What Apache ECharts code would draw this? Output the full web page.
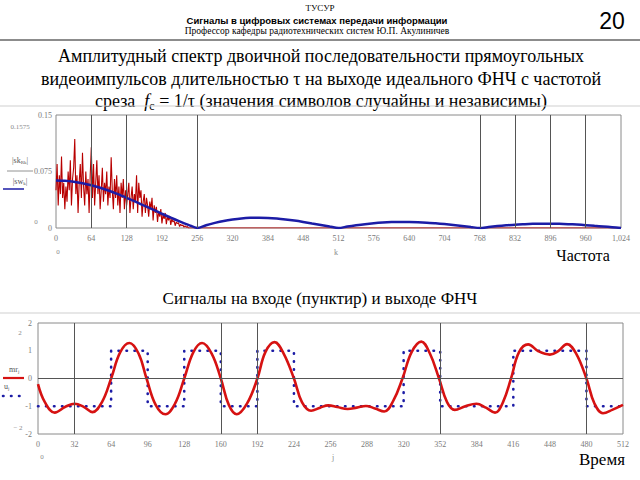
<!DOCTYPE html>
<html>
<head>
<meta charset="utf-8">
<script src="https://cdn.jsdelivr.net/npm/echarts@6/dist/echarts.min.js"></script>
<style>
  html, body { margin: 0; padding: 0; background: #fff; }
  #chart { width: 640px; height: 480px; }
</style>
</head>
<body>
<div id="chart"></div>
<script>
// спектр: шумовой (красный) - [k, |S|]
var spectrumK = [0,2,4,6,8,10,12,14,16,18,20,22,24,26,28,30,32,34,36,38,40,42,44,46,48,50,52,54,56,58,60,62,64,66,68,70,72,74,76,78,80,82,84,86,88,90,92,94,96,98,100,102,104,106,108,110,112,114,116,118,120,122,124,126,128,130,132,134,136,138,140,142,144,146,148,150,152,154,156,158,160,162,164,166,168,170,172,174,176,178,180,182,184,186,188,190,192,194,196,198,200,202,204,206,208,210,212,214,216,218,220,222,224,226,228,230,232,234,236,238,240,256,1024]
var spectrumVal = [0.05,0.085,0.03,0.07,0.045,0.095,0.04,0.06,0.025,0.055,0.035,0.075,0.05,0.09,0.03,0.065,0.08,0.118,0.045,0.07,0.02,0.06,0.085,0.04,0.1,0.055,0.03,0.075,0.045,0.065,0.02,0.07,0.107,0.04,0.085,0.03,0.06,0.09,0.045,0.07,0.025,0.05,0.08,0.035,0.06,0.045,0.075,0.03,0.055,0.04,0.094,0.05,0.025,0.065,0.04,0.07,0.03,0.055,0.02,0.06,0.04,0.065,0.025,0.05,0.03,0.045,0.06,0.02,0.04,0.055,0.025,0.045,0.035,0.07,0.02,0.06,0.04,0.05,0.015,0.035,0.045,0.02,0.04,0.03,0.015,0.035,0.025,0.04,0.01,0.03,0.02,0.028,0.008,0.022,0.015,0.025,0.006,0.018,0.012,0.02,0.005,0.015,0.01,0.016,0.004,0.012,0.008,0.01,0.003,0.008,0.006,0.007,0.002,0.005,0.003,0.004,0.001,0.003,0.001,0.002,0,0,0]
// огибающая (синяя), шаг 16
var envelopeK = [0,16,32,48,64,80,96,112,128,144,160,176,192,208,224,240,256,272,288,304,320,336,352,368,384,400,416,432,448,464,480,496,512,528,544,560,576,592,608,624,640,656,672,688,704,720,736,752,768,784,800,816,832,848,864,880,896,912,928,944,960,976,992,1008,1024]
var envelopeVal = [0.063,0.0626,0.0614,0.0594,0.0567,0.0534,0.0494,0.045,0.0401,0.035,0.0296,0.0243,0.0189,0.0137,0.0088,0.0042,0,0.0037,0.0068,0.0094,0.0113,0.0127,0.0135,0.0137,0.0134,0.0126,0.0114,0.0099,0.0081,0.0061,0.0041,0.002,0,0.0019,0.0036,0.0051,0.0063,0.0072,0.0078,0.0081,0.008,0.0077,0.0071,0.0062,0.0052,0.004,0.0027,0.0013,0,0.0013,0.0025,0.0035,0.0044,0.005,0.0055,0.0057,0.0057,0.0055,0.0051,0.0045,0.0038,0.0029,0.002,0.001,0]
var topGridLines = [64, 128, 256, 768, 832, 896, 960]

// входные символы (по 32 отсчёта)
var symbols = [-1,-1,1,-1,1,-1,1,-1,-1,-1,1,-1,-1,1,1,-1]
var symbolLen = 32
// выход ФНЧ (красный)
var outJ = [0,6,14.6,24,32,40,47.6,56,64,72,80,88,95,103,111.5,120,128,136,143.6,152,160,167,174,183,192,199,207,215,224,231,239,247,254,262,271,279,287,295,303,311,319,327,335.5,343,351,358,364.7,374,383.7,392,400,407,414,421,429,438,448,455,463,471,480,487,494.5,503,512]
var outVal = [-0.2,-0.85,-1.23,-1.02,-0.91,-1.02,-1.21,-0.85,0,0.95,1.28,0.9,0,-0.95,-1.29,-0.9,0,0.95,1.28,0.9,0,-0.95,-1.29,-0.9,0,0.95,1.31,0.9,0,-0.85,-1.16,-1.05,-0.97,-1.03,-1.1,-1.05,-0.99,-1.08,-1.19,-0.8,0,0.95,1.33,0.9,0,-0.85,-1.13,-1.0,-0.91,-1.05,-1.23,-0.85,0,0.95,1.23,0.98,0.86,0.98,1.24,0.9,0,-0.9,-1.25,-1.12,-0.95]
var bottomGridX = [32, 160, 192, 352, 480]

var serif = '"Liberation Serif", "DejaVu Serif", serif'
var sans = '"Liberation Sans", Arial, sans-serif'

function pairs(xs, ys) {
    return xs.map(function(x, i) { return [x, ys[i]] })
}
var squareData = symbols.map(function(v, i) { return [i * symbolLen, v] })
squareData.push([symbols.length * symbolLen, symbols[symbols.length - 1]])

function vLines(xs) {
    return xs.map(function(x) { return { xAxis: x } })
}

var tickLabel = { color: '#7a7a7a', fontSize: 8, fontFamily: serif, margin: 6 }

function txt(x, y, text, font, extra) {
    var st = Object.assign({ x: x, y: y, text: text, font: font, fill: '#000', textAlign: 'center', textVerticalAlign: 'middle' }, extra || {})
    return { type: 'text', style: st, silent: true }
}
// маленькая подпись с индексом (Mathcad-стиль)
function subTxt(x, y, main, sub, tail, align) {
    return {
        type: 'text', silent: true,
        style: {
            x: x, y: y, textAlign: align || 'center', textVerticalAlign: 'middle',
            rich: {
                m: { fontSize: 8, fontFamily: serif, fill: '#555' },
                s: { fontSize: 5, fontFamily: serif, fill: '#555', padding: [5, 0, 0, 0] }
            },
            text: '{m|' + main + '}{s|' + sub + '}' + (tail ? '{m|' + tail + '}' : '')
        }
    }
}

var option = {
    animation: false,
    backgroundColor: '#fff',
    grid: [
        { left: 56, top: 115, width: 565, height: 113, show: true, borderColor: '#8a8a8a', borderWidth: 1 },
        { left: 38, top: 323, width: 585, height: 111, show: true, borderColor: '#8a8a8a', borderWidth: 1 }
    ],
    xAxis: [
        { gridIndex: 0, type: 'value', min: 0, max: 1024, interval: 64,
          axisLine: { show: false }, axisTick: { show: false }, splitLine: { show: false },
          axisLabel: tickLabel },
        { gridIndex: 1, type: 'value', min: 0, max: 512, interval: 32,
          axisLine: { show: false }, axisTick: { show: false }, splitLine: { show: false },
          axisLabel: tickLabel }
    ],
    yAxis: [
        { gridIndex: 0, type: 'value', min: 0, max: 0.15, interval: 0.075,
          axisLine: { show: false }, axisTick: { show: false }, splitLine: { show: false },
          axisLabel: Object.assign({}, tickLabel, { margin: 4 }) },
        { gridIndex: 1, type: 'value', min: -2, max: 2, interval: 1,
          axisLine: { show: false }, axisTick: { show: false },
          splitLine: { show: false },
          axisLabel: Object.assign({}, tickLabel, { margin: 6 }) }
    ],
    series: [
        {
            type: 'line', xAxisIndex: 0, yAxisIndex: 0, data: pairs(spectrumK, spectrumVal),
            showSymbol: false, lineStyle: { color: '#b80000', width: 1.1 }, z: 3,
            markLine: { silent: true, symbol: 'none', label: { show: false },
                lineStyle: { color: '#555', width: 1, type: 'solid' }, data: vLines(topGridLines) }
        },
        {
            type: 'line', xAxisIndex: 0, yAxisIndex: 0, data: pairs(envelopeK, envelopeVal),
            showSymbol: false, smooth: 0.3, lineStyle: { color: '#1c1ca6', width: 2.5 }, z: 4
        },
        {
            type: 'line', xAxisIndex: 1, yAxisIndex: 1, data: squareData, step: 'end',
            showSymbol: false, lineStyle: { color: '#1c1ca6', width: 2.6, type: [0.5, 7.5], cap: 'round' }, z: 3,
            markLine: { silent: true, symbol: 'none', label: { show: false },
                lineStyle: { color: '#555', width: 1, type: 'solid' },
                data: vLines(bottomGridX).concat([{ yAxis: 0 }]) }
        },
        {
            type: 'line', xAxisIndex: 1, yAxisIndex: 1, data: pairs(outJ, outVal),
            showSymbol: false, smooth: 0.4, lineStyle: { color: '#d61212', width: 2.6 }, z: 4
        }
    ],
    graphic: [
        txt(320, 8, 'ТУСУР', '9px ' + serif),
        txt(317, 20, 'Сигналы в цифровых системах передачи информации', 'bold 9.5px ' + sans),
        txt(317, 31, 'Профессор кафедры радиотехнических систем Ю.П. Акулиничев', '9.5px ' + serif),
        txt(612, 21, '20', '23px ' + sans),
        { type: 'line', shape: { x1: 0, y1: 40, x2: 640, y2: 40 }, style: { stroke: '#8c8c8c', lineWidth: 2 }, silent: true },
        txt(321, 56, 'Амплитудный спектр двоичной последовательности прямоугольных', '18px ' + serif),
        txt(321, 79, 'видеоимпульсов длительностью τ на выходе идеального ФНЧ с частотой', '18px ' + serif),
        {
            type: 'text', silent: true,
            style: {
                x: 321, y: 101, textAlign: 'center', textVerticalAlign: 'middle',
                rich: {
                    t: { fontSize: 18, fontFamily: serif, fill: '#000' },
                    i: { fontSize: 18, fontFamily: serif, fontStyle: 'italic', fill: '#000' },
                    s: { fontSize: 12, fontFamily: serif, fill: '#000', padding: [10, 0, 0, 0] }
                },
                text: '{t|среза  }{i|f}{s|c}{t| = 1/τ (значения символов случайны и независимы)}'
            }
        },
        { type: 'line', shape: { x1: 0, y1: 106, x2: 640, y2: 106 }, style: { stroke: '#cfcfcf', lineWidth: 1 }, silent: true },
        // подписи у верхнего графика
        txt(20, 127, '0.1575', '7px ' + serif, { fill: '#8a8a8a' }),
        txt(36, 222, '0', '7px ' + serif, { fill: '#8a8a8a' }),
        subTxt(20, 160, '|sk', 'Rk', '|'),
        { type: 'line', shape: { x1: 7, y1: 171, x2: 33, y2: 171 }, style: { stroke: '#777', lineWidth: 0.8 }, silent: true },
        subTxt(20, 181, '|sw', 'k', '|'),
        { type: 'line', shape: { x1: 3, y1: 189, x2: 24, y2: 189 }, style: { stroke: '#1c1ca6', lineWidth: 1.5 }, silent: true },
        txt(58, 252, '0', '7px ' + serif, { fill: '#8a8a8a' }),
        txt(336, 252, 'k', '8px ' + serif, { fill: '#8a8a8a' }),
        txt(583, 255, 'Частота', '16px ' + serif),
        // раздел сигналов
        txt(320, 298, 'Сигналы на входе (пунктир) и выходе ФНЧ', '17px ' + serif),
        { type: 'line', shape: { x1: 0, y1: 313, x2: 640, y2: 313 }, style: { stroke: '#cfcfcf', lineWidth: 1 }, silent: true },
        txt(20, 333, '2', '7px ' + serif, { fill: '#8a8a8a' }),
        txt(18, 428, '− 2', '7px ' + serif, { fill: '#8a8a8a' }),
        subTxt(9, 369, 'mr', 'j', '', 'left'),
        { type: 'line', shape: { x1: 3, y1: 378, x2: 24, y2: 378 }, style: { stroke: '#d61212', lineWidth: 2.2 }, silent: true },
        subTxt(4, 386, 'u', 'j', '', 'left'),
        { type: 'line', shape: { x1: 3, y1: 396, x2: 22, y2: 396 }, style: { stroke: '#1c1ca6', lineWidth: 2.6, lineDash: [0.5, 7.5], lineCap: 'round' }, silent: true },
        txt(42, 457, '0', '7px ' + serif, { fill: '#8a8a8a' }),
        txt(333, 457, 'j', '8px ' + serif, { fill: '#8a8a8a' }),
        txt(602, 459, 'Время', '17px ' + serif)
    ]
}

var myChart = echarts.init(document.getElementById('chart'), null, { renderer: 'svg' })
myChart.setOption(option)
</script>
</body>
</html>
